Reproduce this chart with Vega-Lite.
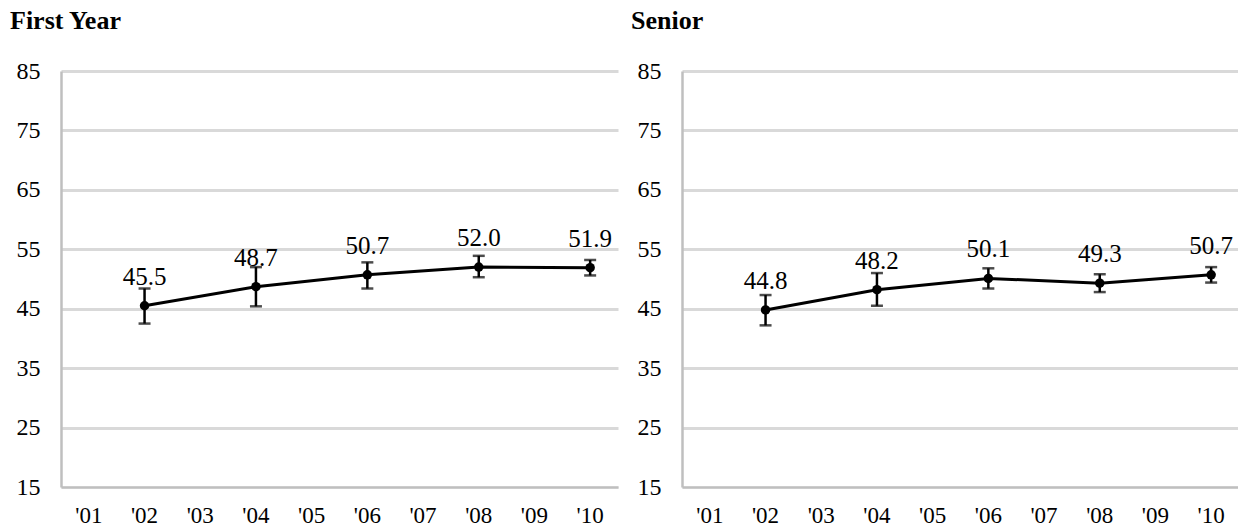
{
  "$schema": "https://vega.github.io/schema/vega-lite/v6.json",
  "padding": {"left": 10, "top": 8, "right": 0, "bottom": 0},
  "background": "white",
  "spacing": 13,
  "datasets": {
    "fy": [
      {"year": "'02", "value": 45.5, "lo": 42.5, "hi": 48.4},
      {"year": "'04", "value": 48.7, "lo": 45.4, "hi": 52.0},
      {"year": "'06", "value": 50.7, "lo": 48.4, "hi": 52.8},
      {"year": "'08", "value": 52.0, "lo": 50.3, "hi": 53.9},
      {"year": "'10", "value": 51.9, "lo": 50.6, "hi": 53.2}
    ],
    "sr": [
      {"year": "'02", "value": 44.8, "lo": 42.2, "hi": 47.3},
      {"year": "'04", "value": 48.2, "lo": 45.5, "hi": 51.0},
      {"year": "'06", "value": 50.1, "lo": 48.4, "hi": 51.8},
      {"year": "'08", "value": 49.3, "lo": 47.8, "hi": 50.8},
      {"year": "'10", "value": 50.7, "lo": 49.4, "hi": 52.0}
    ]
  },
  "config": {
    "font": "'Liberation Serif', serif",
    "view": {"stroke": null},
    "title": {"font": "'Liberation Serif', serif", "fontSize": 26, "fontWeight": "bold", "color": "black", "anchor": "start", "frame": "bounds", "offset": 25},
    "axis": {"labelFont": "'Liberation Serif', serif", "labelColor": "black", "title": null, "ticks": false},
    "text": {"font": "'Liberation Serif', serif"}
  },
  "hconcat": [
    {
      "title": {"text": "First Year", "dx": -6},
      "width": 557,
      "height": 416,
      "data": {"name": "fy"},
      "encoding": {
        "x": {"field": "year", "type": "ordinal", "sort": null,
          "scale": {"type": "band", "domain": ["'01", "'02", "'03", "'04", "'05", "'06", "'07", "'08", "'09", "'10"], "paddingInner": 0, "paddingOuter": 0},
          "axis": {"labelAngle": 0, "labelFontSize": 23, "labelFont": "'Liberation Serif', serif", "labelPadding": 17, "domainColor": "#bfbfbf", "domainWidth": 2, "grid": false}}
      },
      "layer": [
        {"mark": {"type": "rule", "color": "black", "strokeWidth": 2.5},
         "encoding": {"y": {"field": "lo", "type": "quantitative", "scale": {"domain": [15, 85], "nice": false, "zero": false},
            "axis": {"values": [15, 25, 35, 45, 55, 65, 75, 85], "labelFontSize": 24, "labelFont": "'Liberation Serif', serif", "labelPadding": 21, "domainColor": "#bfbfbf", "domainWidth": 2.5, "gridColor": "#d9d9d9", "gridWidth": 3}},
           "y2": {"field": "hi"}}},
        {"mark": {"type": "tick", "color": "black", "thickness": 2.5, "size": 12},
         "encoding": {"y": {"field": "lo", "type": "quantitative"}}},
        {"mark": {"type": "tick", "color": "black", "thickness": 2.5, "size": 12},
         "encoding": {"y": {"field": "hi", "type": "quantitative"}}},
        {"mark": {"type": "line", "color": "black", "strokeWidth": 3},
         "encoding": {"y": {"field": "value", "type": "quantitative"}}},
        {"mark": {"type": "circle", "color": "black", "opacity": 1, "size": 90},
         "encoding": {"y": {"field": "value", "type": "quantitative"}}},
        {"mark": {"type": "text", "color": "black", "fontSize": 25, "font": "'Liberation Serif', serif", "baseline": "alphabetic", "dy": -21},
         "encoding": {"y": {"field": "value", "type": "quantitative"}, "text": {"field": "value", "type": "quantitative", "format": ".1f"}}}
      ]
    },
    {
      "title": {"text": "Senior", "dx": -6},
      "width": 557,
      "height": 416,
      "data": {"name": "sr"},
      "encoding": {
        "x": {"field": "year", "type": "ordinal", "sort": null,
          "scale": {"type": "band", "domain": ["'01", "'02", "'03", "'04", "'05", "'06", "'07", "'08", "'09", "'10"], "paddingInner": 0, "paddingOuter": 0},
          "axis": {"labelAngle": 0, "labelFontSize": 23, "labelFont": "'Liberation Serif', serif", "labelPadding": 17, "domainColor": "#bfbfbf", "domainWidth": 2, "grid": false}}
      },
      "layer": [
        {"mark": {"type": "rule", "color": "black", "strokeWidth": 2.5},
         "encoding": {"y": {"field": "lo", "type": "quantitative", "scale": {"domain": [15, 85], "nice": false, "zero": false},
            "axis": {"values": [15, 25, 35, 45, 55, 65, 75, 85], "labelFontSize": 24, "labelFont": "'Liberation Serif', serif", "labelPadding": 21, "domainColor": "#bfbfbf", "domainWidth": 2.5, "gridColor": "#d9d9d9", "gridWidth": 3}},
           "y2": {"field": "hi"}}},
        {"mark": {"type": "tick", "color": "black", "thickness": 2.5, "size": 12},
         "encoding": {"y": {"field": "lo", "type": "quantitative"}}},
        {"mark": {"type": "tick", "color": "black", "thickness": 2.5, "size": 12},
         "encoding": {"y": {"field": "hi", "type": "quantitative"}}},
        {"mark": {"type": "line", "color": "black", "strokeWidth": 3},
         "encoding": {"y": {"field": "value", "type": "quantitative"}}},
        {"mark": {"type": "circle", "color": "black", "opacity": 1, "size": 90},
         "encoding": {"y": {"field": "value", "type": "quantitative"}}},
        {"mark": {"type": "text", "color": "black", "fontSize": 25, "font": "'Liberation Serif', serif", "baseline": "alphabetic", "dy": -21},
         "encoding": {"y": {"field": "value", "type": "quantitative"}, "text": {"field": "value", "type": "quantitative", "format": ".1f"}}}
      ]
    }
  ]
}
